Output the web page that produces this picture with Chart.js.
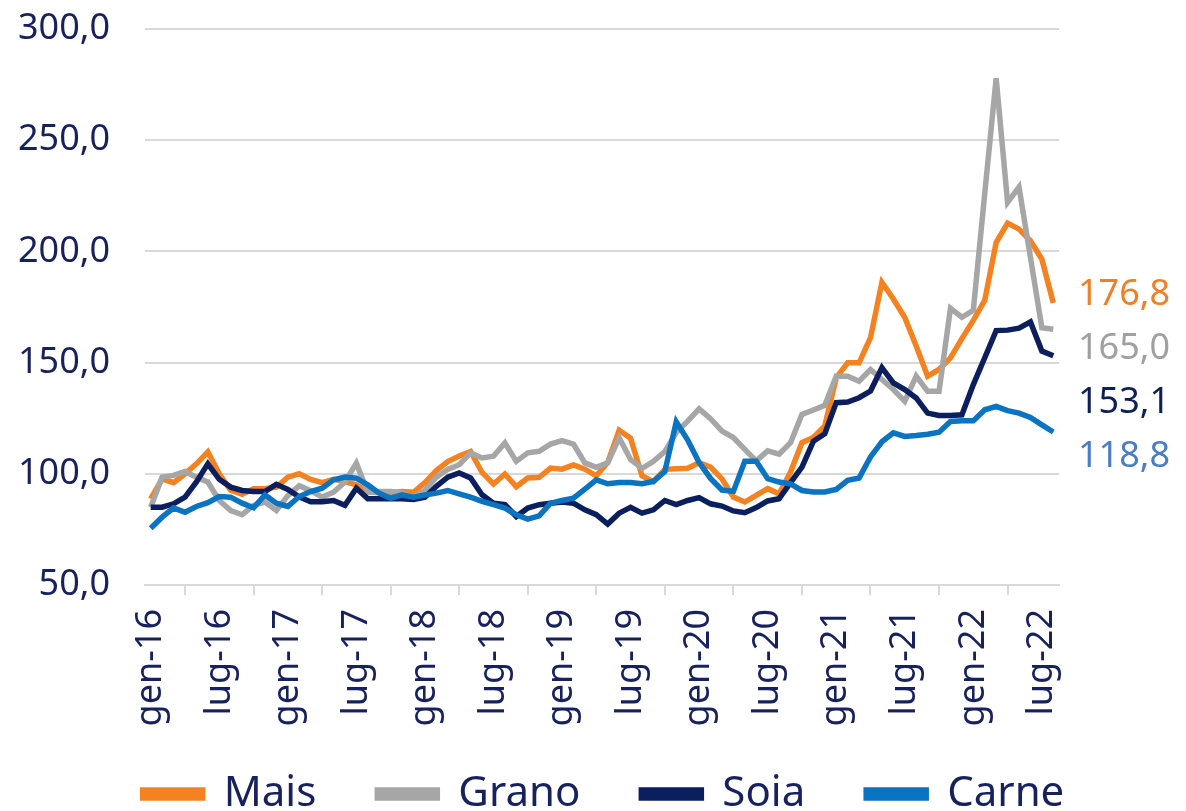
<!DOCTYPE html>
<html>
<head>
<meta charset="utf-8">
<title>Mais, Grano, Soia, Carne</title>
<script src="https://cdn.jsdelivr.net/npm/chart.js@4"></script>
<style>
  html, body { margin: 0; padding: 0; background: #fff; overflow: hidden; }
  #wrap { width: 1186px; height: 811px; overflow: hidden; position: relative; }
</style>
</head>
<body>
<div id="wrap"><canvas id="chart" width="1186" height="850"></canvas></div>
<script>
// months gen-16 .. ago-22
const monthNames = ['gen', 'feb', 'mar', 'apr', 'mag', 'giu', 'lug', 'ago', 'set', 'ott', 'nov', 'dic'];
const years = ['16', '17', '18', '19', '20', '21', '22'];
const categories = [];
years.forEach(y => monthNames.forEach(m => categories.push(m + '-' + y)));
categories.length = 80;

const mais = [
  88.7, 97.7, 96.0, 100.0, 104.5, 109.8, 100.0, 92.6, 90.8, 93.3,
  93.3, 94.0, 98.5, 100.0, 97.5, 96.0, 97.5, 96.5, 95.0, 92.0,
  91.5, 91.5, 92.0, 91.7, 96.0, 101.5, 105.5, 108.0, 110.0, 100.6,
  95.4, 99.9, 94.2, 98.1, 98.4, 102.6, 102.1, 104.0, 102.1, 99.1,
  105.1, 119.6, 116.0, 99.1, 96.5, 102.0, 102.3, 102.5, 105.0, 103.0,
  97.7, 89.5, 87.3, 90.3, 93.3, 91.0, 100.8, 114.0, 116.3, 121.5,
  143.1, 149.9, 149.9, 161.2, 186.1, 178.6, 170.3, 157.5, 143.9, 146.9,
  152.1, 160.8, 169.0, 178.0, 204.0, 212.7, 210.0, 204.8, 196.5, 176.8
];
const grano = [
  85.0, 98.5, 99.3, 101.0, 98.5, 96.3, 88.0, 83.5, 81.6, 85.8,
  87.3, 83.5, 90.2, 94.6, 92.4, 89.5, 91.7, 96.3, 104.8, 91.7,
  92.0, 92.0, 91.4, 89.5, 92.5, 98.5, 102.0, 104.1, 109.4, 107.1,
  107.9, 113.9, 105.6, 109.4, 110.1, 113.4, 114.9, 113.4, 104.9, 102.9,
  104.9, 116.2, 106.4, 102.4, 105.6, 110.0, 118.5, 123.7, 129.2, 124.8,
  119.2, 116.3, 111.0, 105.8, 110.3, 108.8, 114.0, 126.7, 128.7, 130.8,
  143.9, 143.9, 141.6, 146.9, 142.4, 137.9, 132.6, 143.9, 137.1, 137.1,
  174.4, 170.4, 173.5, 226.0, 277.9, 222.0, 228.9, 197.3, 165.7, 165.0
];
const soia = [
  85.0, 85.0, 86.5, 89.5, 96.3, 104.5, 97.5, 94.0, 92.5, 92.0,
  92.0, 95.3, 93.0, 89.6, 87.4, 87.4, 88.0, 85.8, 93.5, 88.8,
  88.8, 88.8, 88.8, 88.5, 89.5, 94.4, 98.5, 100.4, 98.1, 90.6,
  86.8, 86.1, 80.8, 84.6, 86.1, 86.8, 87.3, 86.8, 83.8, 81.6,
  77.4, 82.3, 84.9, 82.3, 83.8, 88.0, 86.2, 88.0, 89.3, 86.5,
  85.5, 83.3, 82.5, 84.8, 87.8, 88.8, 96.0, 103.0, 114.6, 118.0,
  132.0, 132.3, 134.2, 137.2, 147.7, 140.9, 137.9, 134.1, 127.3, 126.2,
  126.2, 126.5, 140.1, 152.2, 164.4, 164.6, 165.5, 168.3, 155.2, 153.1
];
const carne = [
  75.5, 80.5, 84.7, 82.7, 85.3, 87.0, 89.8, 89.5, 86.8, 84.7,
  90.5, 86.8, 85.3, 89.8, 92.0, 93.5, 97.3, 98.5, 98.0, 95.0,
  91.3, 89.0, 90.5, 89.5, 90.5, 91.3, 92.5, 91.0, 89.5, 87.6,
  86.1, 84.6, 81.6, 79.6, 81.1, 86.8, 88.0, 89.0, 93.1, 97.3,
  95.5, 96.1, 96.1, 95.5, 96.6, 101.0, 123.4, 115.2, 105.1, 97.9,
  92.7, 92.1, 105.6, 105.6, 97.8, 96.3, 95.5, 92.5, 91.8, 91.8,
  93.0, 97.1, 98.1, 107.6, 114.4, 118.4, 116.8, 117.2, 117.8, 118.7,
  123.5, 123.8, 123.8, 128.8, 130.3, 128.4, 127.3, 125.3, 122.0, 118.8
];

const FONT = "'Century Gothic', 'Noto Sans', sans-serif";
const NAVY_TEXT = '#17215E';
const GRID = '#D9D9D9';

const fmt = v => Number(v).toFixed(1).replace('.', ',');

// value labels at the right end of each line, pushed apart so they do not overlap
const endLabels = {
  id: 'endLabels',
  afterDatasetsDraw(chart) {
    const ctx = chart.ctx;
    const items = chart.data.datasets.map((ds, i) => {
      const pts = chart.getDatasetMeta(i).data;
      return {
        y: pts[pts.length - 1].y - 8,
        text: fmt(ds.data[ds.data.length - 1]),
        color: ds.labelColor
      };
    }).sort((a, b) => a.y - b.y);
    for (let k = 1; k < items.length; k++) {
      items[k].y = Math.max(items[k].y, items[k - 1].y + 54);
    }
    ctx.save();
    ctx.font = '36px ' + FONT;
    ctx.textAlign = 'left';
    ctx.textBaseline = 'middle';
    items.forEach(it => {
      ctx.fillStyle = it.color;
      ctx.fillText(it.text, chart.chartArea.right + 19, it.y);
    });
    ctx.restore();
  }
};

// move the legend row to where it sits in the original
const legendShift = {
  id: 'legendShift',
  afterLayout(chart) {
    chart.legend.left += 74;
    chart.legend.right += 74;
    chart.legend.top -= 25;
    chart.legend.bottom -= 25;
  }
};

const line = (label, data, color, labelColor, order) => ({
  label, data, order,
  borderColor: color,
  backgroundColor: color,
  labelColor,
  borderWidth: 5.5,
  pointRadius: 0,
  tension: 0,
  fill: false
});

new Chart(document.getElementById('chart'), {
  type: 'line',
  data: {
    labels: categories,
    datasets: [
      line('Mais', mais, '#F58220', '#F07F26', 4),
      line('Grano', grano, '#A6A6A6', '#A0A0A0', 3),
      line('Soia', soia, '#0B1F5E', '#0C1F5B', 2),
      line('Carne', carne, '#0A73C2', '#4A7CC8', 1)
    ]
  },
  options: {
    responsive: false,
    animation: false,
    devicePixelRatio: 1,
    layout: { padding: { top: 0, right: 127, left: 0, bottom: 0 } },
    plugins: {
      tooltip: { enabled: false },
      legend: {
        position: 'bottom',
        labels: {
          color: NAVY_TEXT,
          font: { family: FONT, size: 42 },
          boxWidth: 60,
          boxHeight: 8,
          padding: 61,
          sort: (a, b) => a.datasetIndex - b.datasetIndex
        }
      }
    },
    scales: {
      x: {
        offset: true,
        grid: { offset: true, drawOnChartArea: false, color: GRID, lineWidth: 2, tickLength: 10 },
        border: { color: GRID, width: 2 },
        ticks: {
          autoSkip: false,
          minRotation: 90,
          maxRotation: 90,
          padding: 14,
          color: NAVY_TEXT,
          font: { family: FONT, size: 36 },
          callback(v, i) { return i % 6 === 0 ? this.getLabelForValue(v) : null; }
        },
        afterFit(s) { s.height = 152; }
      },
      y: {
        min: 50,
        max: 300,
        grid: { color: GRID, lineWidth: 2, drawTicks: false },
        border: { display: false },
        ticks: {
          stepSize: 50,
          padding: 35,
          color: NAVY_TEXT,
          font: { family: FONT, size: 36 },
          callback: v => fmt(v)
        },
        afterFit(s) {
          s.width = 145;
          s.paddingTop = 29;
          s.paddingBottom = 0;
        }
      }
    }
  },
  plugins: [endLabels, legendShift]
});
</script>
</body>
</html>
